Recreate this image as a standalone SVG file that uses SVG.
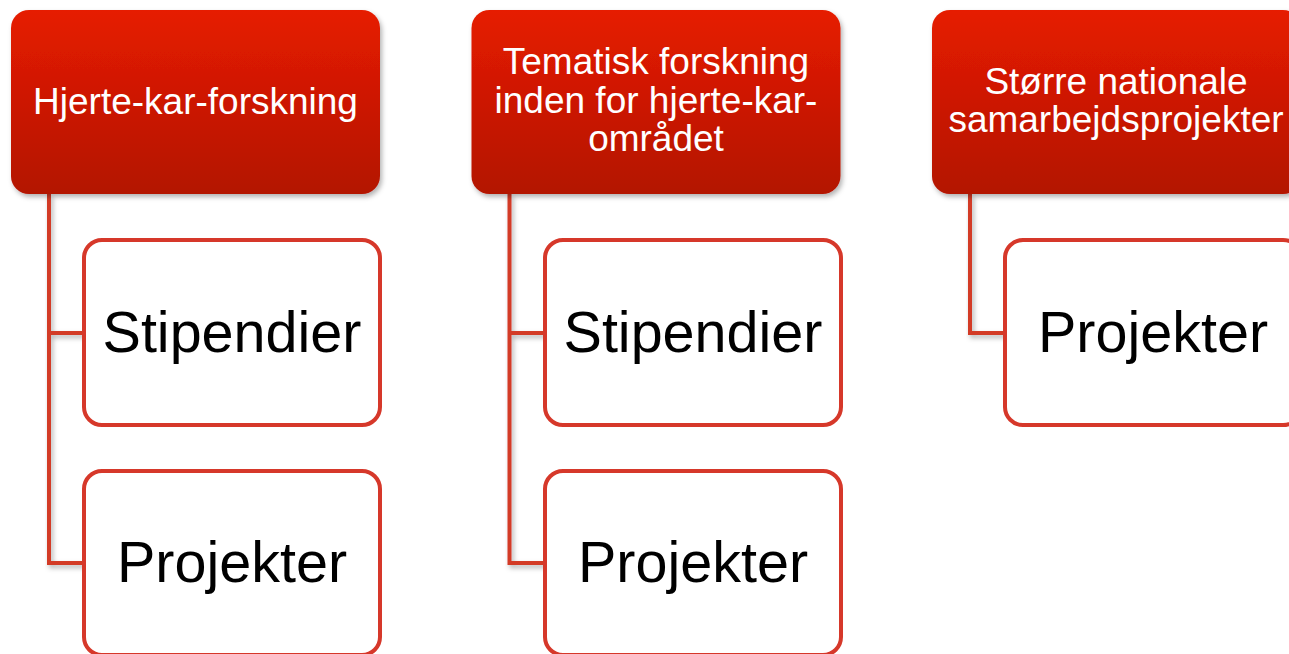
<svg xmlns="http://www.w3.org/2000/svg" width="1289" height="654" viewBox="0 0 1289 654">
  <defs>
    <linearGradient id="hdrGrad" x1="0" y1="0" x2="0" y2="1">
      <stop offset="0" stop-color="#e61c04"/>
      <stop offset="1" stop-color="#b31300"/>
    </linearGradient>
    <filter id="shadow" x="-10%" y="-10%" width="130%" height="130%">
      <feDropShadow dx="2" dy="3" stdDeviation="2.5" flood-color="#000" flood-opacity="0.3"/>
    </filter>
    <style>
      .hdr { fill: url(#hdrGrad); filter: url(#shadow); }
      .hdrText { font-family: "Liberation Sans", Arial, sans-serif; font-size: 37px; fill: #ffffff; text-anchor: middle; }
      .child { fill: #ffffff; stroke: #d6382a; stroke-width: 4; }
      .childText { font-family: "Liberation Sans", Arial, sans-serif; font-size: 57.5px; fill: #000000; text-anchor: middle; }
      .conn { fill: none; stroke: #d33a28; stroke-width: 4; filter: url(#shadow); }
    </style>
  </defs>
  <rect width="1289" height="654" fill="#ffffff"/>

  <g id="connectors">
    <path class="conn" d="M49,194 V563 H84 M49,333 H84"/>
    <path class="conn" d="M509.5,194 V563 H545 M509.5,333 H545"/>
    <path class="conn" d="M970,194 V333 H1005"/>
  </g>

  <g id="header1">
    <rect class="hdr" x="11" y="10" width="369" height="184" rx="18"/>
    <text class="hdrText" x="195.5" y="114">Hjerte-kar-forskning</text>
  </g>
  <g id="header2">
    <rect class="hdr" x="471.5" y="10" width="369" height="184" rx="18"/>
    <text class="hdrText" x="656" y="74">Tematisk forskning</text>
    <text class="hdrText" x="656" y="113">inden for hjerte-kar-</text>
    <text class="hdrText" x="656" y="151">området</text>
  </g>
  <g id="header3">
    <rect class="hdr" x="932" y="10" width="369" height="184" rx="18"/>
    <text class="hdrText" x="1116" y="94">Større nationale</text>
    <text class="hdrText" x="1116" y="132">samarbejdsprojekter</text>
  </g>

  <g id="child1a">
    <rect class="child" x="84" y="240" width="296" height="185" rx="18"/>
    <text class="childText" x="232" y="352">Stipendier</text>
  </g>
  <g id="child1b">
    <rect class="child" x="84" y="471" width="296" height="184" rx="18"/>
    <text class="childText" x="232" y="582">Projekter</text>
  </g>
  <g id="child2a">
    <rect class="child" x="545" y="240" width="296" height="185" rx="18"/>
    <text class="childText" x="693" y="352">Stipendier</text>
  </g>
  <g id="child2b">
    <rect class="child" x="545" y="471" width="296" height="184" rx="18"/>
    <text class="childText" x="693" y="582">Projekter</text>
  </g>
  <g id="child3a">
    <rect class="child" x="1005" y="240" width="296" height="185" rx="18"/>
    <text class="childText" x="1153" y="352">Projekter</text>
  </g>
</svg>
